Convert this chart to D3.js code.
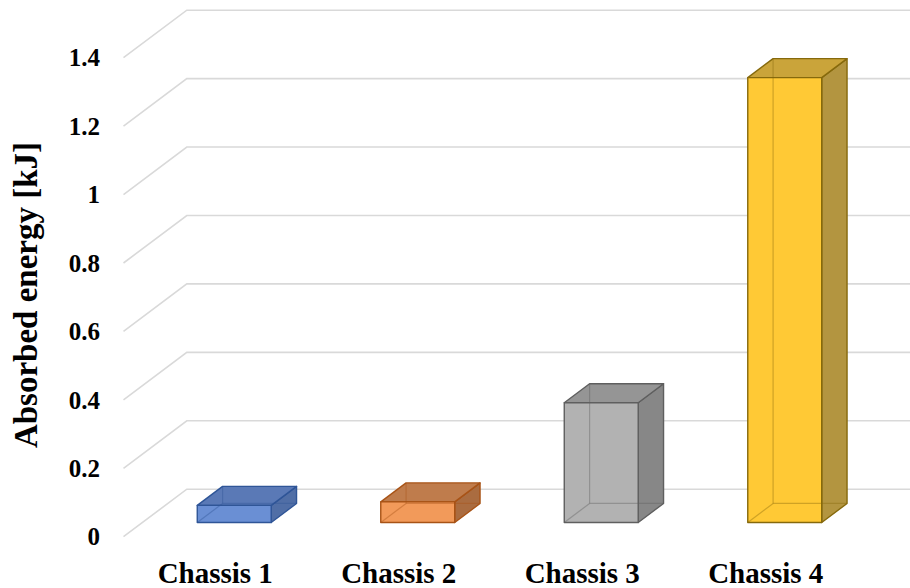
<!DOCTYPE html>
<html>
<head>
<meta charset="utf-8">
<script src="https://cdn.jsdelivr.net/npm/d3@7"></script>
<style>
  html, body { margin: 0; padding: 0; background: #ffffff; }
  svg { display: block; }
  text { font-family: "Liberation Serif", "Times New Roman", serif; font-weight: bold; fill: #000; }
</style>
</head>
<body>
<svg id="chart" width="910" height="588"></svg>
<script>
// Absorbed energy per chassis design
const categories = ["Chassis 1", "Chassis 2", "Chassis 3", "Chassis 4"];
const energy = [0.05, 0.06, 0.35, 1.30];
const tickValues = [0, 0.2, 0.4, 0.6, 0.8, 1, 1.2, 1.4];
const tickLabels = ["0", "0.2", "0.4", "0.6", "0.8", "1", "1.2", "1.4"];
const axisTitle = "Absorbed energy [kJ]";

// face colours per bar: front, top, side, edge
const palette = [
  { front: "#6a8fd4", top: "#5a79b6", side: "#506ea6", edge: "#2f5597" },
  { front: "#f29a5a", top: "#bf7c4c", side: "#aa6c40", edge: "#a85316" },
  { front: "#b2b2b2", top: "#959595", side: "#878787", edge: "#5f5f5f" },
  { front: "#ffc935", top: "#caa43a", side: "#b39540", edge: "#86690c" }
];

const svg = d3.select("#chart");

// 3D projection: depth vector of the plot floor
const depthX = 63.3, depthY = -47.5;
// bars occupy the middle of the depth
const barDepth0 = 0.3, barDepth1 = 0.7;

const y = d3.scaleLinear().domain([0, 1.4]).range([536.7, 57.7]);
const x = d3.scaleBand().domain(categories).range([123.5, 857.5]).paddingInner(0.597).paddingOuter(0.2985);

const defs = svg.append("defs");
defs.append("clipPath").attr("id", "plotClip")
  .append("rect").attr("x", 0).attr("y", 0).attr("width", 910).attr("height", 588);

// gridlines: side-wall diagonal + back-wall horizontal
const grid = svg.append("g").attr("clip-path", "url(#plotClip)");
tickValues.forEach(v => {
  const x0 = x.range()[0], x1 = x.range()[1];
  const pts = [
    [x0, y(v)],
    [x0 + depthX, y(v) + depthY],
    [x1 + depthX, y(v) + depthY]
  ];
  grid.append("path")
    .attr("d", d3.line()(pts))
    .attr("fill", "none")
    .attr("stroke", "#d9d9d9")
    .attr("stroke-width", 1.6);
});

// point in screen space for (bar x-offset, value, depth fraction)
function P(px, v, f) {
  return [px + f * depthX, y(v) + f * depthY];
}

const bars = svg.append("g");
categories.forEach((c, i) => {
  const v = energy[i];
  const col = palette[i];
  const xl = x(c), xr = x(c) + x.bandwidth();
  const g = bars.append("g");

  const fbl = P(xl, 0, barDepth0), fbr = P(xr, 0, barDepth0);
  const ftl = P(xl, v, barDepth0), ftr = P(xr, v, barDepth0);
  const bbl = P(xl, 0, barDepth1), bbr = P(xr, 0, barDepth1);
  const btl = P(xl, v, barDepth1), btr = P(xr, v, barDepth1);

  const poly = pts => "M" + pts.map(p => p.join(",")).join("L") + "Z";

  // visible faces
  g.append("path").attr("d", poly([fbr, bbr, btr, ftr]))
    .attr("fill", col.side).attr("stroke", col.edge).attr("stroke-width", 1.4).attr("stroke-linejoin", "round");
  g.append("path").attr("d", poly([ftl, ftr, btr, btl]))
    .attr("fill", col.top).attr("stroke", col.edge).attr("stroke-width", 1.4).attr("stroke-linejoin", "round");
  g.append("path").attr("d", poly([fbl, fbr, ftr, ftl]))
    .attr("fill", col.front).attr("stroke", col.edge).attr("stroke-width", 1.4).attr("stroke-linejoin", "round");

  // hidden edges seen through the translucent faces
  const hidden = [[bbl, btl], [bbl, bbr], [bbl, fbl]];
  hidden.forEach(seg => {
    g.append("path").attr("d", d3.line()(seg))
      .attr("stroke", col.edge).attr("stroke-opacity", 0.4).attr("stroke-width", 1.2).attr("fill", "none");
  });
});

// value axis labels
svg.append("g").selectAll("text")
  .data(tickValues)
  .join("text")
  .attr("x", 100)
  .attr("y", d => y(d))
  .attr("dy", "0.35em")
  .attr("text-anchor", "end")
  .style("font-size", "25px")
  .text((d, i) => tickLabels[i]);

// category labels along the front edge of the floor
svg.append("g").selectAll("text")
  .data(categories)
  .join("text")
  .attr("x", d => x(d) + x.bandwidth() / 2)
  .attr("y", 583)
  .attr("text-anchor", "middle")
  .style("font-size", "29px")
  .text(d => d);

// axis title
svg.append("text")
  .attr("transform", "translate(37,295) rotate(-90)")
  .attr("text-anchor", "middle")
  .style("font-size", "33px")
  .text(axisTitle);
</script>
</body>
</html>
